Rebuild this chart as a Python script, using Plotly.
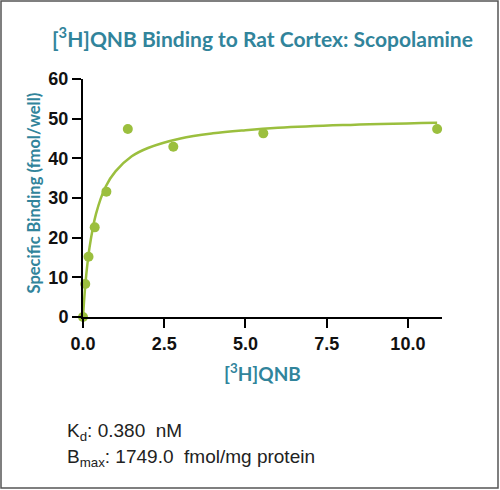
import plotly.graph_objects as go

# Data
conc = [0.0, 0.07, 0.17, 0.36, 0.72, 1.38, 2.78, 5.55, 10.9]
binding = [0.0, 8.3, 15.2, 22.6, 31.6, 47.4, 42.9, 46.3, 47.4]

# Fitted curve
fit_x = [0.0, 0.05, 0.1, 0.2, 0.4, 0.7, 1.0, 1.5, 2.0, 3.0, 4.0, 5.0, 6.0, 8.0, 10.9]
fit_y = [0.0, 5.9, 10.6, 17.5, 26.0, 32.9, 36.7, 40.5, 42.6, 45.0, 46.3, 47.1, 47.7, 48.4, 49.0]

x_ticks = [0, 2.5, 5, 7.5, 10]
x_ticklabels = ["0.0", "2.5", "5.0", "7.5", "10.0"]
y_ticks = [0, 10, 20, 30, 40, 50, 60]

TEAL = "#31849B"
GREEN = "#9BBF3E"

W, H = 500, 490
L, R, T, B = 83, 442, 79, 317  # plot area in pixels


def px_x(p):
    return (p - L) / (R - L)


def px_y(p):
    return (B - p) / (B - T)


fig = go.Figure()
fig.add_trace(go.Scatter(x=fit_x, y=fit_y, mode="lines", line=dict(color=GREEN, width=2.5, shape="spline"),
                         hoverinfo="skip", cliponaxis=False))
fig.add_trace(go.Scatter(x=conc, y=binding, mode="markers", marker=dict(color=GREEN, size=10),
                         cliponaxis=False))

axis_common = dict(showline=True, linecolor="black", linewidth=2, ticks="outside", tickcolor="black",
                   tickwidth=2, ticklen=9, showgrid=False, zeroline=False,
                   tickfont=dict(family="Liberation Sans, Arial", size=18, color="#111", weight="bold"))

fig.update_layout(
    width=W, height=H,
    margin=dict(l=L, r=W - R, t=T, b=H - B, pad=0),
    paper_bgcolor="white", plot_bgcolor="white",
    showlegend=False,
    xaxis=dict(range=[0, 11.05], tickvals=x_ticks, ticktext=x_ticklabels, **axis_common),
    yaxis=dict(range=[0, 60], tickvals=y_ticks, **axis_common),
)

annotations = [
    dict(text="[<sup>3</sup>H]QNB Binding to Rat Cortex: Scopolamine", x=px_x(262), y=px_y(37),
         font=dict(family="Lato, Open Sans", size=21, color=TEAL, weight="bold")),
    dict(text="Specific Binding (fmol/well)", x=px_x(33.5), y=px_y(193), textangle=-90,
         font=dict(family="Lato, Open Sans", size=16.5, color=TEAL, weight="bold")),
    dict(text="[<sup>3</sup>H]QNB", x=px_x(262), y=px_y(372),
         font=dict(family="Lato, Open Sans", size=19, color=TEAL, weight="bold")),
    dict(text="K<sub>d</sub>: 0.380&nbsp;&nbsp;nM", x=px_x(65), y=px_y(432), xanchor="left",
         font=dict(family="Liberation Sans, Arial", size=19, color="#222")),
    dict(text="B<sub>max</sub>: 1749.0&nbsp;&nbsp;fmol/mg protein", x=px_x(65), y=px_y(458), xanchor="left",
         font=dict(family="Liberation Sans, Arial", size=19, color="#222")),
]
for a in annotations:
    a.setdefault("xanchor", "center")
    fig.add_annotation(xref="paper", yref="paper", showarrow=False, yanchor="middle", **a)

fig.add_shape(type="rect", xref="paper", yref="paper", x0=px_x(1), x1=px_x(498), y0=px_y(1), y1=px_y(488),
              line=dict(color="#555", width=1.5), fillcolor="rgba(0,0,0,0)", layer="below")

fig.write_html("out.html")
